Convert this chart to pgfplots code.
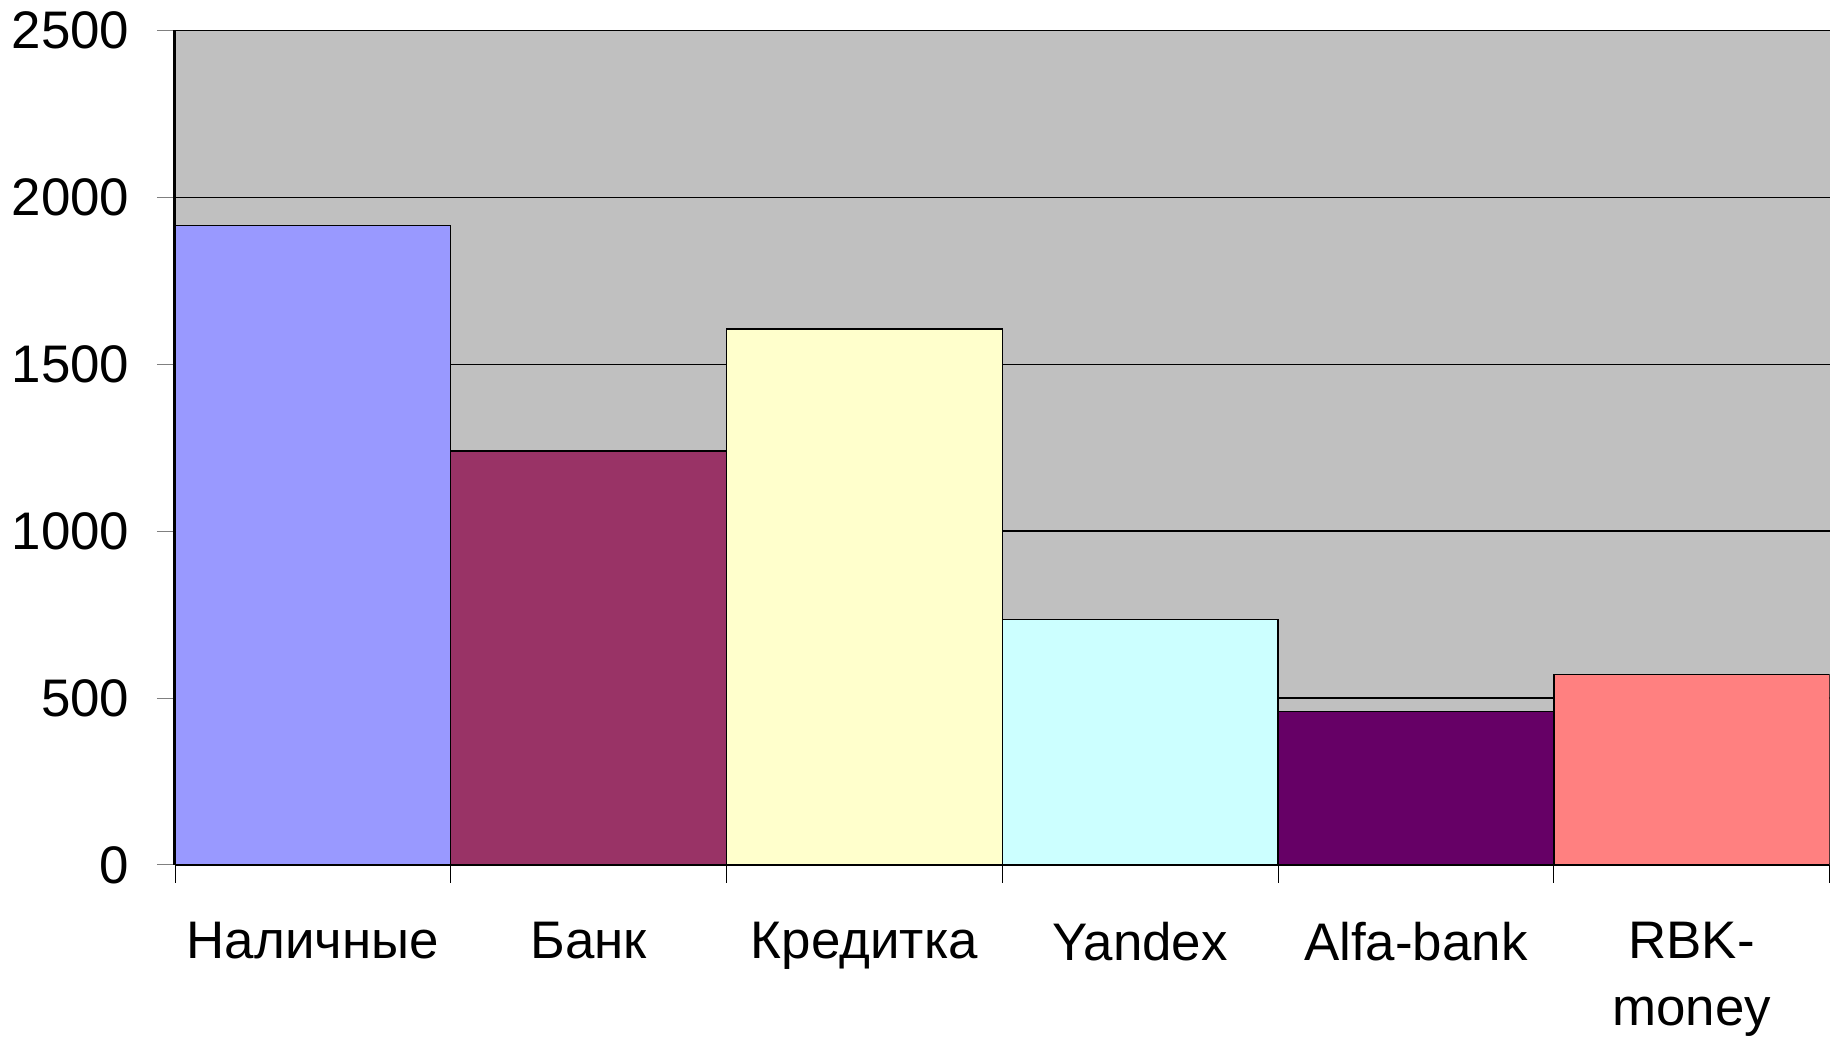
\documentclass[border=0pt]{standalone}
\usepackage{pgfplots}
\pgfplotsset{compat=1.18}
\usepackage{fontspec}
\setmainfont{Liberation Sans}
\definecolor{plotbg}{HTML}{C0C0C0}
\definecolor{c1}{HTML}{9999FF}
\definecolor{c2}{HTML}{993366}
\definecolor{c3}{HTML}{FFFFCC}
\definecolor{c4}{HTML}{CCFFFF}
\definecolor{c5}{HTML}{660066}
\definecolor{c6}{HTML}{FF8080}
\begin{document}
\begin{tikzpicture}
\begin{axis}[
    scale only axis, width=16.5cm, height=8.32cm,
    xmin=-0.5, xmax=5.5, ymin=0, ymax=2500,
    ytick={0,500,...,2500},
    xtick={0,...,5}, major x tick style={draw=none},
    xticklabels={Наличные, Банк, Кредитка, Yandex, Alfa-bank, {RBK-\\money}},
    minor xtick={-0.5,0.5,...,5.5},
    tick align=outside, major tick length=0.18cm, minor tick length=0.18cm,
    minor tick style={black},
    axis x line*=bottom, axis y line*=left,
    axis line style={black, thick},
    ymajorgrids, grid style={black, thin},
    axis background/.style={fill=plotbg},
    tick label style={font=\fontsize{15}{19}\selectfont},
    xticklabel style={align=center, inner sep=0pt, yshift=-0.38cm},
    yticklabel style={xshift=-0.15cm},
    /pgf/number format/assume math mode=true,
    /pgf/number format/1000 sep={},
    ybar, bar width=1, bar shift=0pt,
]
\addplot[fill=c1, draw=black] coordinates {(0,1915)};
\addplot[fill=c2, draw=black] coordinates {(1,1240)};
\addplot[fill=c3, draw=black] coordinates {(2,1605)};
\addplot[fill=c4, draw=black] coordinates {(3,735)};
\addplot[fill=c5, draw=black] coordinates {(4,460)};
\addplot[fill=c6, draw=black] coordinates {(5,570)};
\end{axis}
\end{tikzpicture}
\end{document}
